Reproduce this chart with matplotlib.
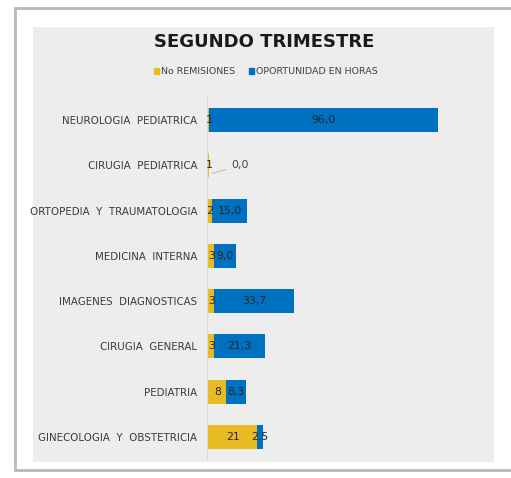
import matplotlib.pyplot as plt
from matplotlib.patches import Rectangle, Patch

# data
categorias = ['NEUROLOGIA  PEDIATRICA', 'CIRUGIA  PEDIATRICA', 'ORTOPEDIA  Y  TRAUMATOLOGIA',
              'MEDICINA  INTERNA', 'IMAGENES  DIAGNOSTICAS', 'CIRUGIA  GENERAL',
              'PEDIATRIA', 'GINECOLOGIA  Y  OBSTETRICIA']
remisiones = [1, 1, 2, 3, 3, 3, 8, 21]
oportunidad = [96.0, 0.0, 15.0, 9.0, 33.7, 21.3, 8.3, 2.5]

amarillo = '#E9BB22'
azul = '#0070C0'
fuente = ['DejaVu Sans']

W, H = 511, 478
fig = plt.figure(figsize=(W / 100, H / 100), dpi=100)
fig.patch.set_facecolor('white')

# card and grey plot background
fig.patches.append(Rectangle((15 / W, 1 - 470 / H), 520 / W, 462 / H, transform=fig.transFigure,
                             facecolor='white', edgecolor='#B8B8B8', lw=2, zorder=0))
fig.patches.append(Rectangle((33 / W, 1 - 462 / H), 461 / W, 435 / H, transform=fig.transFigure,
                             facecolor='#EDEDED', edgecolor='none', zorder=0))

ax = fig.add_axes([207 / W, 1 - 459.65 / H, 287 / W, 362.3 / H], zorder=2)
ax.set_facecolor('none')

y = list(range(len(categorias)))
ax.barh(y, remisiones, height=0.53, color=amarillo)
ax.barh(y, oportunidad, left=remisiones, height=0.53, color=azul)

ax.set_xlim(0, 287 / 2.38)
ax.set_ylim(7.5, -0.5)
ax.set_xticks([])
ax.set_yticks(y)
ax.set_yticklabels(categorias, fontsize=7.4, color='#3A3A3A', family=fuente)
ax.tick_params(axis='y', length=0, pad=7)
for s in ['top', 'right', 'bottom']:
    ax.spines[s].set_visible(False)
ax.spines['left'].set_color('#DADADA')
ax.spines['left'].set_linewidth(0.8)

for i in y:
    ax.text(remisiones[i] / 2 + 0.3, i, str(remisiones[i]), ha='center', va='center',
            fontsize=7.8, color='#262626', family=fuente)
    val = f'{oportunidad[i]:.1f}'.replace('.', ',')
    if oportunidad[i] == 0:
        ax.annotate(val, xy=(1.0, i + 0.2), xytext=(13.9, i), ha='center', va='center',
                    fontsize=7.8, color='#404040', family=fuente,
                    arrowprops=dict(arrowstyle='-', color='#BFBFBF', lw=0.8))
    else:
        ax.text(remisiones[i] + oportunidad[i] / 2, i, val, ha='center', va='center',
                fontsize=7.8, color='#262626', family=fuente)

fig.text(264 / W, 1 - 42 / H, 'SEGUNDO TRIMESTRE', ha='center', va='center',
         fontsize=13, fontweight='bold', color='#1A1A1A', family=fuente)

handles = [Patch(color=amarillo, label='No REMISIONES'),
           Patch(color=azul, label='OPORTUNIDAD EN HORAS')]
fig.legend(handles=handles, loc='center', bbox_to_anchor=(266 / W, 1 - 72 / H), ncol=2,
           frameon=False, handlelength=0.5, handleheight=0.5, handletextpad=0.3,
           columnspacing=1.4, prop={'family': fuente, 'size': 6.8}, labelcolor='#404040')

fig.savefig('out.png', dpi=100)
